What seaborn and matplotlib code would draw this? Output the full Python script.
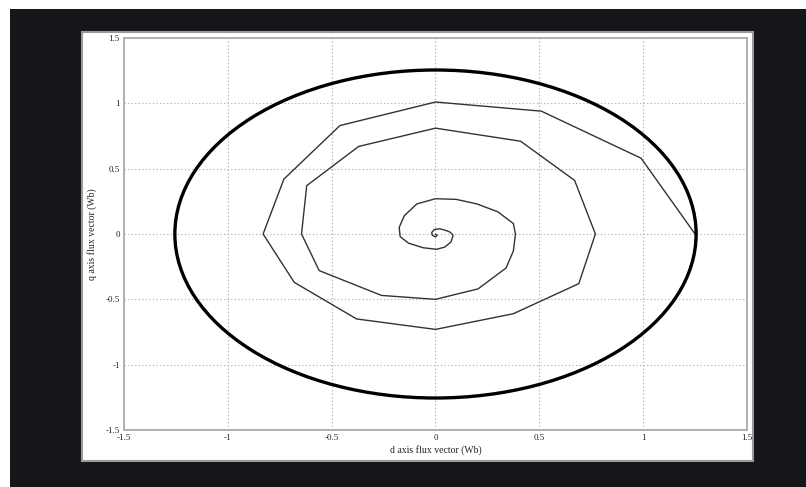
"""
Flux vector trajectory in the d-q plane: start-up spiral that settles
onto the steady-state flux circle.  Saves out.png (806x487).
"""

import matplotlib

matplotlib.use("Agg")

import matplotlib.pyplot as plt
from matplotlib.patches import Circle, Rectangle
import seaborn as sns
import pandas as pd

# ---------------------------------------------------------------------------
# Data (Wb)
# ---------------------------------------------------------------------------
SPIRAL_D = [
    0.000, 0.008, 0.000, -0.015, -0.018, -0.005, 0.020, 0.045, 0.070, 0.085,
    0.075, 0.045, 0.005, -0.060, -0.130, -0.170, -0.175, -0.150, -0.090, 0.000,
    0.100, 0.200, 0.300, 0.375, 0.385, 0.375, 0.340, 0.205, 0.000, -0.260,
    -0.560, -0.645, -0.620, -0.370, 0.000, 0.410, 0.670, 0.770, 0.690, 0.375,
    0.000, -0.380, -0.680, -0.830, -0.730, -0.460, 0.000, 0.510, 0.990, 1.250,
]
SPIRAL_Q = [
    0.000, -0.010, -0.022, -0.010, 0.012, 0.035, 0.040, 0.030, 0.015, -0.010,
    -0.060, -0.100, -0.117, -0.105, -0.070, -0.020, 0.050, 0.140, 0.230, 0.270,
    0.265, 0.230, 0.170, 0.080, 0.000, -0.130, -0.260, -0.420, -0.500, -0.470,
    -0.280, 0.000, 0.370, 0.670, 0.810, 0.710, 0.410, 0.000, -0.380, -0.610,
    -0.730, -0.650, -0.370, 0.000, 0.420, 0.830, 1.010, 0.940, 0.580, 0.000,
]
STEADY_RADIUS = [1.255]

TICKS = [-1.5, -1, -0.5, 0, 0.5, 1, 1.5]
TICK_LABELS = ["-1.5", "-1", "-0.5", "0", "0.5", "1", "1.5"]

X_LABEL = "d axis flux vector (Wb)"
Y_LABEL = "q axis flux vector (Wb)"

FRAME_BLACK = "#15161a"


def main() -> None:
    sns.set_style("white")
    plt.rcParams["font.family"] = ["Liberation Serif", "DejaVu Serif"]

    fig = plt.figure(figsize=(8.06, 4.87), dpi=100)
    fig.patch.set_facecolor("white")

    # dark screenshot frame and white plot panel (kept behind the axes)
    fig.patches.append(
        Rectangle((0.0124, 0.0), 0.9876, 0.9815, transform=fig.transFigure,
                  facecolor=FRAME_BLACK, edgecolor="none", zorder=-3)
    )
    fig.patches.append(
        Rectangle((0.1017, 0.0534), 0.8325, 0.881, transform=fig.transFigure,
                  facecolor="white", edgecolor="#9a9a9a", linewidth=1.5, zorder=-2)
    )

    ax = fig.add_axes([0.1538, 0.117, 0.773, 0.805])
    ax.set_facecolor("white")

    spiral = pd.DataFrame({"d": SPIRAL_D, "q": SPIRAL_Q})
    sns.lineplot(data=spiral, x="d", y="q", sort=False, estimator=None,
                 color="#333333", linewidth=1.0, ax=ax)

    ax.add_patch(Circle((0, 0), STEADY_RADIUS[0], fill=False,
                        edgecolor="black", linewidth=2.4, zorder=3))

    ax.set_xlim(-1.5, 1.5)
    ax.set_ylim(-1.5, 1.5)
    ax.set_xticks(TICKS)
    ax.set_yticks(TICKS)
    ax.set_xticklabels(TICK_LABELS)
    ax.set_yticklabels(TICK_LABELS)
    ax.tick_params(direction="in", length=3, width=0.6, colors="#555555",
                   labelsize=6.5, pad=3, labelcolor="#222222")

    ax.grid(True, linestyle=(0, (1.2, 2.0)), color="#b4b4b4", linewidth=0.8)
    for spine in ax.spines.values():
        spine.set_color("#b0b0b0")
        spine.set_linewidth(1.4)

    ax.set_xlabel(X_LABEL, fontsize=7, color="#222222", labelpad=2)
    ax.set_ylabel(Y_LABEL, fontsize=7, color="#222222", labelpad=6)

    fig.savefig("out.png", dpi=100)
    plt.close("all")


if __name__ == "__main__":
    main()
